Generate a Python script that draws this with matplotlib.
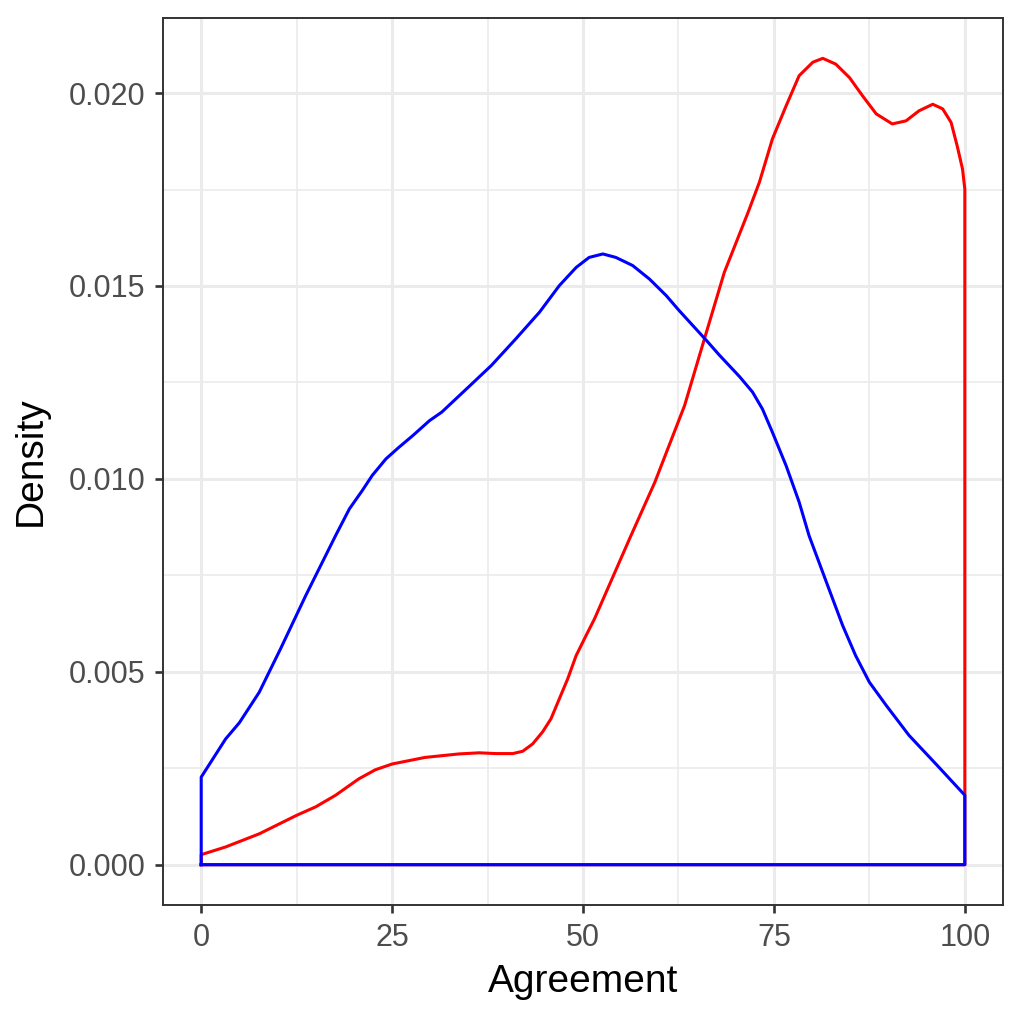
import numpy as np
import matplotlib
matplotlib.use("Agg")
import matplotlib.pyplot as plt
from matplotlib.ticker import MultipleLocator

plt.rcParams['font.family'] = ['Liberation Sans', 'DejaVu Sans']

# density curves (Agreement, Density)
red_x = [0, 3.2, 7.6, 12.5, 15, 17.6, 20.6, 22.8, 25, 29.3, 33.7, 36.4, 38.6, 40.8,
         42.1, 43.4, 44.7, 45.8, 46.9, 48, 49.1, 50.4, 51.5, 56.1, 59.4, 63.3, 65.9,
         68.5, 71.6, 73.1, 74.8, 76.6, 78.3, 80.1, 81.4, 83.1, 84.9, 86.6, 88.4,
         90.5, 92.3, 94, 95.8, 97.1, 98.2, 99.0, 99.7, 100]
red_y = [0.00026, 0.00046, 0.0008, 0.00128, 0.0015, 0.0018, 0.00222, 0.00246,
         0.00261, 0.00278, 0.00287, 0.0029, 0.00288, 0.00288, 0.00294, 0.00313,
         0.00344, 0.00378, 0.0043, 0.00482, 0.00542, 0.00594, 0.00637, 0.00845,
         0.00991, 0.0119, 0.01363, 0.01535, 0.0169, 0.01769, 0.01881, 0.01967,
         0.02045, 0.0208, 0.0209, 0.02075, 0.0204, 0.01993, 0.01946, 0.0192,
         0.01928, 0.01954, 0.01971, 0.01959, 0.01924, 0.01863, 0.01803, 0.01751]

blue_x = [0, 3.2, 5, 7.6, 10.4, 13.7, 17.6, 19.4, 21.1, 22.4, 24.2, 25.9, 27.7,
          29.9, 31.5, 35, 38, 41.2, 44.3, 46.9, 49.1, 50.8, 52.6, 54.3, 56.5, 58.7,
          60.9, 62.6, 66.2, 67.8, 70.5, 72.2, 73.5, 74.8, 76.6, 78.3, 79.6, 80.9,
          82.2, 84.0, 85.7, 87.5, 89.7, 92.7, 96.4, 100]
blue_y = [0.00227, 0.00326, 0.00368, 0.00447, 0.0056, 0.00698, 0.00853, 0.00922,
          0.0097, 0.01009, 0.01052, 0.01082, 0.01112, 0.01151, 0.01173, 0.01238,
          0.01294, 0.01363, 0.01432, 0.01501, 0.01548, 0.01574, 0.01583, 0.01574,
          0.01553, 0.01518, 0.01475, 0.01436, 0.01358, 0.01322, 0.01265, 0.01225,
          0.01181, 0.01121, 0.01034, 0.0094, 0.00853, 0.00784, 0.00715, 0.0062,
          0.00542, 0.00473, 0.00413, 0.00335, 0.00257, 0.0018]

x_ticks = [0, 25, 50, 75, 100]
y_ticks = [0.000, 0.005, 0.010, 0.015, 0.020]

fig = plt.figure(figsize=(10.24, 10.24), dpi=100)
ax = fig.add_axes([0.1592, 0.1162, 0.8203, 0.8662])

# closed outlines like geom_density (no fill)
for xs, ys, col in [(red_x, red_y, 'red'), (blue_x, blue_y, 'blue')]:
    px = [xs[0]] + xs + [xs[-1], xs[0]]
    py = [0] + ys + [0, 0]
    ax.plot(px, py, color=col, lw=2.2, solid_joinstyle='round', zorder=3)

ax.set_xlim(-5, 105)
ax.set_ylim(-0.001045, 0.021945)
ax.set_xticks(x_ticks)
ax.set_yticks(y_ticks)
ax.set_yticklabels([f"{v:.3f}" for v in y_ticks])
ax.xaxis.set_minor_locator(MultipleLocator(12.5))
ax.yaxis.set_minor_locator(MultipleLocator(0.0025))

ax.grid(which='major', color='#EBEBEB', lw=2.2, zorder=0)
ax.grid(which='minor', color='#EBEBEB', lw=1.2, zorder=0)
ax.set_axisbelow(True)

ax.tick_params(which='major', length=5.8, width=1.9, color='#333333',
               labelsize=22, labelcolor='#4D4D4D', pad=7)
ax.tick_params(which='minor', length=0)
for s in ax.spines.values():
    s.set_color('#333333')
    s.set_linewidth(1.4)

ax.set_xlabel('Agreement', fontsize=28, labelpad=8)
ax.set_ylabel('Density', fontsize=28, labelpad=14)

fig.savefig('out.png', dpi=100)
